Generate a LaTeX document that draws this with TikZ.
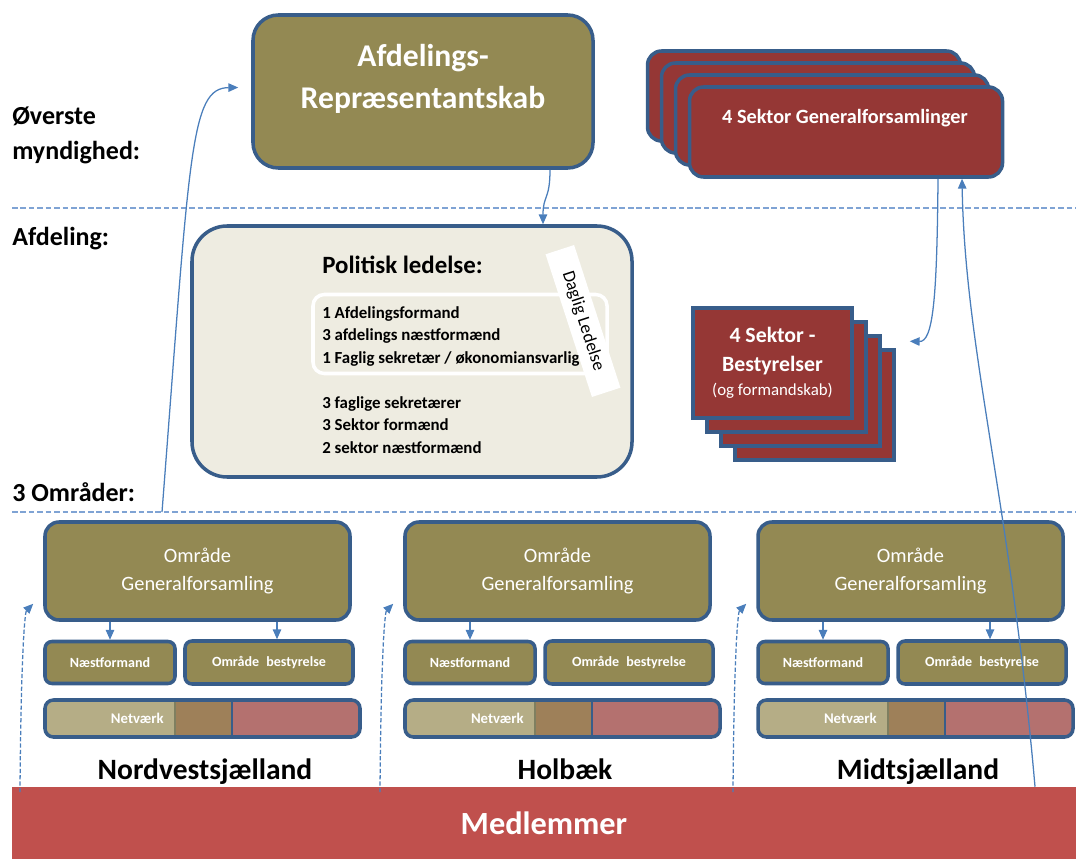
\documentclass[tikz,border=0pt]{standalone}
\usepackage{fontspec}
\setmainfont{Carlito}
\usepackage{xcolor}
\usepackage{tikz}
\usetikzlibrary{arrows.meta,positioning,calc}

\definecolor{olivebox}{HTML}{938953}
\definecolor{edgeblue}{HTML}{385D8A}
\definecolor{sektorred}{HTML}{953735}
\definecolor{memberred}{HTML}{C0504D}
\definecolor{paperbg}{HTML}{EEECE1}
\definecolor{linkblue}{HTML}{4A7EBB}
\definecolor{sepblue}{HTML}{7FA3D4}
\definecolor{nettan}{HTML}{B5AD86}
\definecolor{netbrown}{HTML}{9E8059}
\definecolor{netpink}{HTML}{B4716F}
\definecolor{netgrey}{HTML}{7F7F60}

% one pixel of the layout
\newcommand{\pxl}{0.025cm}

\tikzset{
  boxsize/.style 2 args={minimum width=#1*\pxl, minimum height=#2*\pxl},
  olivebig/.style={rectangle, draw=edgeblue, fill=olivebox, line width=2.5pt, rounded corners=18pt,
    inner sep=0pt},
  omraadebox/.style={rectangle, draw=edgeblue, fill=olivebox, line width=2.5pt, rounded corners=10pt,
    text=white, align=center, inner sep=0pt, font=\fontsize{14.5}{20.5}\selectfont},
  smallbox/.style={rectangle, draw=edgeblue, fill=olivebox, line width=2.5pt, rounded corners=5pt,
    text=white, inner sep=0pt, font=\bfseries\fontsize{10}{12}\selectfont},
  sektorgf/.style={rectangle, draw=edgeblue, fill=sektorred, line width=2.5pt, rounded corners=10pt,
    inner sep=0pt},
  sektorbest/.style={rectangle, draw=edgeblue, fill=sektorred, line width=2.5pt, inner sep=0pt,
    text=white, align=center},
  levellabel/.style={anchor=base west, align=left, inner sep=0pt, font=\bfseries\fontsize{18.5}{25}\selectfont},
  regionlabel/.style={anchor=base, font=\bfseries\fontsize{21}{24}\selectfont},
  flow/.style={-{Triangle[length=7pt,width=6pt]}, draw=linkblue, line width=0.9pt},
  dashflow/.style={flow, dash pattern=on 3pt off 1.5pt},
  seprule/.style={draw=sepblue, line width=1pt, dash pattern=on 4pt off 2pt},
}

\begin{document}
\begin{tikzpicture}[x=0.025cm, y=-0.025cm,
    leditem/.style={anchor=base west, align=left, inner sep=0pt, font=\bfseries\fontsize{12}{16}\selectfont},
    whitetext/.style={text=white, align=center, inner sep=0pt}]

  \useasboundingbox (0,0) rectangle (1076,859);

  % Level separators and level names
  \draw[seprule] (12,208) -- (1076,208);
  \draw[seprule] (12,512) -- (1076,512);
  \node[levellabel] (lvltop) at (12,160) {Øverste\\myndighed:};
  \node[levellabel] (lvlafd) at (12,246) {Afdeling:};
  \node[levellabel] (lvlomr) at (12,501) {3 Områder:};

  % Supreme body
  \node[olivebig, boxsize={340}{153}] (rep) at (423,91.5) {};
  \node[whitetext, font=\bfseries\fontsize{22.5}{30}\selectfont] (reptext) at (423,79) {Afdelings-\\Repræsentantskab};

  % Sector general assemblies (stack)
  \foreach \k in {3,2,1}
    \node[sektorgf, boxsize={313}{90}] (sgf\k) at (846-14*\k,132-12*\k) {};
  \node[sektorgf, boxsize={313}{90}] (sgf) at (846,132) {};
  \node[whitetext, font=\bfseries\fontsize{14.4}{17}\selectfont] (sgftext) at (845,118) {4 Sektor Generalforsamlinger};

  % Political leadership
  \node[rectangle, draw=edgeblue, fill=paperbg, line width=2.5pt, rounded corners=25pt,
    boxsize={440}{251}] (pol) at (412,351.5) {};
  \node[anchor=base west, inner sep=0pt, font=\bfseries\fontsize{17.7}{20}\selectfont] (poltitle) at (322,274) {Politisk ledelse:};
  \node[draw=white, line width=2.5pt, rounded corners=8pt, boxsize={294}{79}] (dagframe) at (460,334) {};
  \node[leditem] (lead) at (322,363) {1 Afdelingsformand\\3 afdelings næstformænd\\1 Faglig sekretær / økonomiansvarlig};
  \node[leditem] (sektor) at (322,453) {3 faglige sekretærer\\3 Sektor formænd\\2 sektor næstformænd};
  \node[fill=white, rotate=-72, boxsize={150}{30}, inner sep=0pt,
    font=\fontsize{12.7}{14}\selectfont] (daglig) at (583,321) {Daglig Ledelse};

  % Sector boards (stack)
  \foreach \k in {3,2,1}
    \node[sektorbest, boxsize={159}{110}] (sb\k) at (772.5+14*\k,363+14*\k) {};
  \node[sektorbest, boxsize={159}{110}, font=\bfseries\fontsize{15.5}{20.5}\selectfont] (sb) at (772.5,363)
    {4 Sektor -\\Bestyrelser\\[-3pt]{\mdseries\fontsize{12}{14}\selectfont (og formandskab)}};

  % Members
  \node[rectangle, fill=memberred, boxsize={1064}{72}, text=white,
    font=\bfseries\fontsize{23}{26}\selectfont] (medl) at (544,823) {Medlemmer};

  % Areas
  \foreach \x/\i/\navn/\toboard in {45/1/Nordvestsjælland/1, 405/2/Holbæk/0, 758/3/Midtsjælland/1} {
    \node[omraadebox, boxsize={305}{98}] (gf\i) at (\x+152.5,571) {Område\\Generalforsamling};
    \node[smallbox, boxsize={130}{42}] (nf\i) at (\x+65,662.5) {Næstformand};
    \node[smallbox, boxsize={168}{43}] (ob\i) at (\x+224,662.5) {Område\enspace bestyrelse};
    \begin{scope}
      \clip[rounded corners=6pt] (\x,700) rectangle (\x+315,737);
      \fill[nettan] (\x,700) rectangle (\x+130,737);
      \fill[netbrown] (\x+130,700) rectangle (\x+187,737);
      \fill[netpink] (\x+187,700) rectangle (\x+315,737);
      \draw[netgrey, line width=1.5pt] (\x+130,700) -- (\x+130,737);
      \draw[edgeblue, line width=2pt] (\x+187,700) -- (\x+187,737);
    \end{scope}
    \node[rectangle, draw=edgeblue, line width=2.5pt, rounded corners=6pt, boxsize={315}{37}] (net\i) at (\x+157.5,718.5) {};
    \node[anchor=east, text=white, inner sep=0pt, font=\bfseries\fontsize{10.5}{12}\selectfont] (nettext\i) at (\x+119,718) {Netværk};
    \node[regionlabel] (navn\i) at (\x+160,779) {\navn};
    \draw[flow] (nf\i.north |- gf\i.south) -- (nf\i.north);
    \ifnum\toboard=1
      \draw[flow] ([xshift=8*\pxl]ob\i.north |- gf\i.south) -- ([xshift=8*\pxl]ob\i.north);
    \fi
    \coordinate (foot\i) at (\x-25,792);
    \draw[dashflow] (foot\i) .. controls (\x-24,650) and (\x-20,612) .. ([xshift=-10*\pxl, yshift=18*\pxl]gf\i.south west);
  }

  % Connectors
  \coordinate (omrfoot) at (162,512);
  \draw[flow] (omrfoot) .. controls (190,150) and (190,88) .. ([xshift=-13*\pxl, yshift=4*\pxl]rep.west);
  \draw[flow] ([xshift=127*\pxl]rep.south) .. controls (550,200) and (543,195) .. ([xshift=131*\pxl]pol.north);
  \draw[flow] ([xshift=92*\pxl]sgf.south) .. controls (937,300) and (933,342) .. ([xshift=14*\pxl, yshift=7*\pxl]sb3.north east);
  \draw[flow] ([xshift=491*\pxl]medl.north) .. controls (1010,500) and (965,350) .. ([xshift=116*\pxl]sgf.south);

\end{tikzpicture}
\end{document}
